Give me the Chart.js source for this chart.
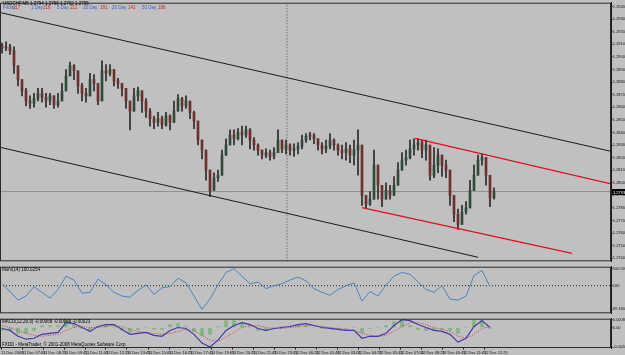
<!DOCTYPE html>
<html>
<head>
<meta charset="utf-8">
<script src="https://cdn.jsdelivr.net/npm/chart.js@4.4.1/dist/chart.umd.min.js"></script>
<style>
  html, body { margin: 0; padding: 0; background: #c0c0c0; }
  #wrap { position: relative; width: 625px; height: 355px; overflow: hidden; background: #c0c0c0;
          font-family: "Liberation Sans", Arial, sans-serif; }
  canvas { position: absolute; left: 0; }
  .t { position: absolute; font-size: 4.5px; line-height: 5px; white-space: nowrap; color: #000; }
  .b { color: #3a5fcd; }
  .r { color: #d02020; }
</style>
</head>
<body>
<div id="wrap">
  <canvas id="main" width="625" height="264" style="top:0"></canvas>
  <canvas id="mom" width="625" height="52" style="top:264px"></canvas>
  <canvas id="macd" width="625" height="39" style="top:316px"></canvas>

  <div class="t" style="left:3px;top:1px">USDCHF,M5 1.2794 1.2796 1.2792 1.2795</div>
  <div class="t b" style="left:3px;top:5px">Friday</div>
  <div class="t r" style="left:13px;top:5px">117</div>
  <div class="t b" style="left:31px;top:5px">1 Day</div>
  <div class="t r" style="left:43px;top:5px">216</div>
  <div class="t b" style="left:57px;top:5px">5 Day</div>
  <div class="t r" style="left:70px;top:5px">211</div>
  <div class="t b" style="left:83px;top:5px">10 Day</div>
  <div class="t r" style="left:100px;top:5px">191</div>
  <div class="t b" style="left:112px;top:5px">20 Day</div>
  <div class="t r" style="left:128px;top:5px">141</div>
  <div class="t b" style="left:142px;top:5px">50 Day</div>
  <div class="t r" style="left:158px;top:5px">186</div>

  <div class="t" style="left:2px;top:267px">Mom(14) 100.0254</div>
  <div class="t" style="left:2px;top:319px">MACD(12,26,9) -0.00068 -0.00048 -0.00023</div>
  <div class="t" style="left:2px;top:342px">FXDD - MetaTrader, &copy; 2001-2008 MetaQuotes Software Corp.</div>
</div>

<script>
// ------------------------------------------------------------
// Data (USDCHF M5), one candle per slot
// ------------------------------------------------------------
const firstOpen = 1.2909

const closes = [
  1.2907,1.2908,1.2905,1.2893,1.2882,1.2873,1.2865,1.2863,1.2867,1.2871,
  1.2868,1.2865,1.2869,1.2862,1.2865,1.2873,1.2885,1.2893,1.2889,1.2877,
  1.2871,1.2869,1.2882,1.2879,1.2865,1.2889,1.2887,1.2890,1.2881,1.2879,
  1.2875,1.2865,1.2857,1.2869,1.2873,1.2865,1.2857,1.2851,1.2848,1.2851,
  1.2846,1.2853,1.2848,1.2857,1.2867,1.2861,1.2865,1.2856,1.2849,1.2834,
  1.2826,1.2810,1.2794,1.2804,1.2806,1.2822,1.2830,1.2838,1.2835,1.2840,
  1.2838,1.2842,1.2834,1.2830,1.2826,1.2822,1.2824,1.2821,1.2824,1.2834,
  1.2827,1.2830,1.2826,1.2827,1.2829,1.2834,1.2837,1.2838,1.2835,1.2830,
  1.2827,1.2829,1.2834,1.2830,1.2826,1.2824,1.2827,1.2822,1.2826,1.2830,
  1.2790,1.2783,1.2787,1.2814,1.2798,1.2787,1.2794,1.2790,1.2798,1.2810,
  1.2818,1.2820,1.2827,1.2830,1.2832,1.2826,1.2830,1.2806,1.2814,1.2822,
  1.2814,1.2810,1.2790,1.2775,1.2767,1.2777,1.2780,1.2794,1.2806,1.2818,
  1.2820,1.2806,1.2788,1.2793
]

const highs = [
  1.2911,1.2912,1.2910,1.2908,1.2889,1.2882,1.2875,1.2869,1.2871,1.2875,
  1.2875,1.2871,1.2871,1.2868,1.2871,1.2879,1.2890,1.2896,1.2894,1.2884,
  1.2879,1.2875,1.2887,1.2886,1.2873,1.2897,1.2894,1.2894,1.2887,1.2883,
  1.2879,1.2873,1.2865,1.2875,1.2876,1.2871,1.2867,1.2859,1.2853,1.2856,
  1.2853,1.2856,1.2854,1.2865,1.2870,1.2868,1.2869,1.2864,1.2857,1.2842,
  1.2834,1.2822,1.2810,1.2808,1.2810,1.2826,1.2835,1.2842,1.2842,1.2843,
  1.2845,1.2845,1.2843,1.2836,1.2831,1.2826,1.2827,1.2826,1.2828,1.2842,
  1.2834,1.2834,1.2831,1.2831,1.2832,1.2838,1.2839,1.2840,1.2839,1.2835,
  1.2832,1.2834,1.2839,1.2835,1.2831,1.2830,1.2832,1.2830,1.2834,1.2842,
  1.2814,1.2790,1.2793,1.2826,1.2814,1.2798,1.2800,1.2798,1.2805,1.2816,
  1.2824,1.2826,1.2834,1.2835,1.2835,1.2834,1.2834,1.2830,1.2828,1.2827,
  1.2819,1.2818,1.2806,1.2790,1.2779,1.2782,1.2785,1.2802,1.2814,1.2822,
  1.2823,1.2819,1.2804,1.2796
]

const lows = [
  1.2903,1.2905,1.2902,1.2887,1.2877,1.2869,1.2861,1.2859,1.2860,1.2865,
  1.2864,1.2860,1.2862,1.2859,1.2860,1.2865,1.2878,1.2886,1.2882,1.2871,
  1.2865,1.2864,1.2873,1.2873,1.2862,1.2865,1.2881,1.2885,1.2877,1.2875,
  1.2869,1.2859,1.2842,1.2859,1.2865,1.2856,1.2852,1.2845,1.2843,1.2845,
  1.2843,1.2845,1.2842,1.2851,1.2861,1.2857,1.2859,1.2851,1.2843,1.2830,
  1.2819,1.2802,1.2789,1.2798,1.2801,1.2816,1.2824,1.2832,1.2830,1.2834,
  1.2830,1.2836,1.2827,1.2826,1.2822,1.2819,1.2820,1.2818,1.2819,1.2826,
  1.2824,1.2823,1.2822,1.2821,1.2823,1.2827,1.2832,1.2834,1.2831,1.2826,
  1.2823,1.2824,1.2827,1.2826,1.2822,1.2819,1.2818,1.2816,1.2814,1.2806,
  1.2782,1.2780,1.2782,1.2787,1.2787,1.2781,1.2788,1.2787,1.2790,1.2801,
  1.2810,1.2814,1.2819,1.2822,1.2826,1.2820,1.2818,1.2802,1.2804,1.2808,
  1.2805,1.2804,1.2782,1.2769,1.2763,1.2772,1.2775,1.2782,1.2798,1.2810,
  1.2814,1.2798,1.2781,1.2787
]

// price axis labels
const priceTicks = [
  '1.2940','1.2930','1.2920','1.2910','1.2900','1.2890','1.2880','1.2870','1.2860','1.2850',
  '1.2840','1.2830','1.2820','1.2810','1.2800','1.2790','1.2780','1.2770','1.2760','1.2750','1.2740'
]

// trend lines drawn on the chart: [x1, price1, x2, price2] in candle slots
const blackUpper = [-0.5, 1.29353, 152.25, 1.28250]
const blackLower = [-0.5, 1.28282, 119, 1.27408]
const redUpper   = [103.25, 1.28353, 152.25, 1.27991]
const redLower   = [90, 1.27802, 142.5, 1.27439]
const daySeparator = 71.25   // 12 Dec 00:00

// indicators, one value every second candle
const momentum = [
  100.07,99.80,99.50,99.64,99.97,99.77,99.57,99.87,100.33,100.20,
  99.74,99.77,100.23,100.03,99.77,99.64,99.60,99.84,100.03,99.70,
  99.93,99.97,100.26,100.10,99.64,99.18,99.54,100.03,100.46,100.59,
  100.33,100.07,100.13,99.90,100.00,100.07,100.20,100.30,100.17,99.90,
  99.77,99.67,99.87,100.00,100.10,99.47,99.80,99.64,100.03,100.33,
  100.46,100.40,100.13,99.87,99.77,100.00,99.54,99.50,99.64,100.36,
  100.53,99.97
]

const macdMain = [
  -0.0001,-0.0003,-0.0009,-0.0012,-0.0011,-0.0007,-0.0006,-0.0005,0.0005,0.0004,
  0,-0.0004,0.0001,0.0003,0.0003,-0.0002,-0.0007,-0.0006,-0.0005,-0.0008,
  -0.0009,-0.0003,0,-0.0001,-0.0007,-0.0016,-0.0020,-0.0013,-0.0003,0.0002,
  0.0005,0.0003,-0.0001,-0.0003,-0.0001,0,0.0001,0.0003,0.0004,0.0002,
  0,-0.0001,-0.0002,-0.0003,-0.0003,-0.0011,-0.0009,-0.0009,-0.0006,0.0002,
  0.0008,0.0007,0.0003,0,-0.0003,-0.0004,-0.0007,-0.0015,-0.0011,0.0001,
  0.0007,0
]

const macdSignal = [
  0.0002,0,-0.0003,-0.0006,-0.0008,-0.0009,-0.0008,-0.0007,-0.0003,0,
  0.0001,0,0,0.0001,0.0002,0.0001,-0.0002,-0.0004,-0.0005,-0.0006,
  -0.0007,-0.0006,-0.0004,-0.0002,-0.0003,-0.0008,-0.0013,-0.0014,-0.0010,-0.0005,
  0,0.0002,0.0002,0,-0.0001,-0.0001,0,0.0001,0.0002,0.0002,
  0.0001,0,-0.0001,-0.0002,-0.0003,-0.0006,-0.0008,-0.0009,-0.0008,-0.0004,
  0.0001,0.0005,0.0005,0.0003,0,-0.0002,-0.0004,-0.0009,-0.0011,-0.0007,
  -0.0001,0.0001
]

const macdHist = [
  -0.0003,-0.0003,-0.0006,-0.0006,-0.0003,0.0002,0.0002,0.0002,0.0008,0.0004,
  -0.0001,-0.0004,0.0001,0.0002,0.0001,-0.0003,-0.0005,-0.0002,0,-0.0002,
  -0.0002,0.0003,0.0004,0.0001,-0.0004,-0.0008,-0.0007,0.0001,0.0007,0.0007,
  0.0005,0.0001,-0.0003,-0.0003,0,0.0001,0.0001,0.0002,0.0002,0,
  -0.0001,-0.0001,-0.0001,-0.0001,0,-0.0005,-0.0001,0,0.0002,0.0006,
  0.0007,0.0002,-0.0002,-0.0003,-0.0003,-0.0002,-0.0003,-0.0006,0,0.0008,
  0.0008,-0.0001
]

const timeLabels = [
  '11 Dec 2008','11 Dec 07:05','11 Dec 08:25','11 Dec 09:45','11 Dec 11:05','11 Dec 12:25',
  '11 Dec 13:45','11 Dec 15:05','11 Dec 16:25','11 Dec 17:45','11 Dec 19:05','11 Dec 20:25',
  '11 Dec 21:45','11 Dec 23:05','12 Dec 00:25','12 Dec 01:45','12 Dec 03:05','12 Dec 04:25',
  '12 Dec 05:45','12 Dec 07:05','12 Dec 08:25','12 Dec 09:45','12 Dec 11:05','12 Dec 12:25'
]

// ------------------------------------------------------------
// Shared bits
// ------------------------------------------------------------
const X_MIN = -0.5
const X_MAX = 152.25
const AXIS_W = 14
const TICK_FONT = { family: "'Liberation Sans', Arial, sans-serif", size: 4 }

const paneFrame = {
  id: 'paneFrame',
  afterDraw(chart) {
    const { ctx, chartArea: a } = chart
    ctx.save()
    ctx.strokeStyle = '#2b2b2b'
    ctx.lineWidth = 1
    ctx.strokeRect(a.left + 0.5, a.top + 0.5, a.right - a.left - 1, a.bottom - a.top - 1)
    ctx.restore()
  }
}

function rightAxis(extra) {
  return Object.assign({
    position: 'right',
    afterFit: s => { s.width = AXIS_W },
    border: { display: true, color: '#1a1a1a', width: 1 },
    grid: { drawOnChartArea: false, tickLength: 1.5, color: '#1a1a1a' },
    ticks: { color: '#111', font: TICK_FONT, padding: 0.3 }
  }, extra)
}

function hiddenX() {
  return { type: 'linear', min: X_MIN, max: X_MAX, offset: false, display: false }
}

function segment(line, color, width) {
  return {
    type: 'line',
    data: [{ x: line[0], y: line[1] }, { x: line[2], y: line[3] }],
    borderColor: color,
    borderWidth: width,
    pointRadius: 0,
    order: 0
  }
}

const baseOpts = {
  responsive: false,
  animation: false,
  events: [],
  plugins: { legend: { display: false }, tooltip: { enabled: false } }
}

// ------------------------------------------------------------
// Main pane: candles + lines
// ------------------------------------------------------------
const opens = closes.map((c, i) => i === 0 ? firstOpen : closes[i - 1])
const lastPrice = closes[closes.length - 1]

const wickData = closes.map((c, i) => ({
  x: i,
  y: [Math.min(lows[i], opens[i], c), Math.max(highs[i], opens[i], c)]
}))
const bodyData = closes.map((c, i) => ({ x: i, y: [opens[i], c] }))
const bodyColors = closes.map((c, i) => c >= opens[i] ? '#2f4a38' : '#6e2f2f')

const pMin = 1.27376
const pMax = 1.29431

const priceTag = {
  id: 'priceTag',
  afterDraw(chart) {
    const { ctx } = chart
    const y = Math.round(chart.scales.y.getPixelForValue(lastPrice))
    ctx.save()
    ctx.fillStyle = '#000'
    ctx.fillRect(612, y - 3, 13, 6)
    ctx.fillStyle = '#fff'
    ctx.font = "4px 'Liberation Sans', Arial, sans-serif"
    ctx.textBaseline = 'middle'
    ctx.fillText(lastPrice.toFixed(4), 613, y + 0.5)
    ctx.restore()
  }
}

new Chart(document.getElementById('main'), {
  type: 'bar',
  data: {
    datasets: [
      segment(blackUpper, '#1a1a1a', 1),
      segment(blackLower, '#1a1a1a', 1),
      segment(redUpper, '#e0101a', 1.3),
      segment(redLower, '#e0101a', 1.3),
      {
        type: 'line',
        data: [{ x: X_MIN, y: lastPrice }, { x: X_MAX, y: lastPrice }],
        borderColor: '#8e8e8e', borderWidth: 1, pointRadius: 0, order: 3
      },
      {
        type: 'line',
        data: [{ x: daySeparator, y: pMin }, { x: daySeparator, y: pMax }],
        borderColor: '#4a4a4a', borderWidth: 1, borderDash: [1, 2], pointRadius: 0, order: 3
      },
      {
        data: bodyData,
        backgroundColor: bodyColors,
        barThickness: 2,
        minBarLength: 1,
        grouped: false,
        order: 1
      },
      {
        data: wickData,
        backgroundColor: '#2a2a2a',
        barThickness: 1,
        grouped: false,
        order: 2
      }
    ]
  },
  options: {
    ...baseOpts,
    layout: { padding: { top: 1, bottom: 2, left: 0, right: 0 } },
    scales: {
      x: hiddenX(),
      y: rightAxis({
        min: pMin,
        max: pMax,
        afterBuildTicks: s => { s.ticks = priceTicks.map(v => ({ value: parseFloat(v) })) },
        ticks: {
          color: '#111', font: TICK_FONT, padding: 0.3,
          callback: (v, i) => priceTicks[i]
        }
      })
    }
  },
  plugins: [paneFrame, priceTag]
})

// ------------------------------------------------------------
// Momentum pane
// ------------------------------------------------------------
const momMax = Math.max(...momentum)
const momMin = Math.min(...momentum)

new Chart(document.getElementById('mom'), {
  type: 'line',
  data: {
    datasets: [
      {
        data: momentum.map((v, k) => ({ x: 2 * k, y: v })),
        borderColor: '#4a84c4', borderWidth: 1, pointRadius: 0, tension: 0
      },
      {
        data: [{ x: X_MIN, y: 100 }, { x: X_MAX, y: 100 }],
        borderColor: '#222', borderWidth: 1, borderDash: [1, 2], pointRadius: 0
      }
    ]
  },
  options: {
    ...baseOpts,
    layout: { padding: { top: 2, bottom: 1 } },
    scales: {
      x: hiddenX(),
      y: rightAxis({
        min: 99.043,
        max: 100.66,
        afterBuildTicks: s => { s.ticks = [momMax, 100, momMin].map(v => ({ value: v })) },
        ticks: {
          color: '#111', font: TICK_FONT, padding: 0.3,
          callback: v => v === 100 ? '100' : v.toFixed(3)
        }
      })
    }
  },
  plugins: [paneFrame]
})

// ------------------------------------------------------------
// MACD pane + time axis
// ------------------------------------------------------------
const macdMax = Math.max(...macdMain)
const macdMin = Math.min(...macdMain)

new Chart(document.getElementById('macd'), {
  type: 'bar',
  data: {
    datasets: [
      {
        type: 'line',
        data: macdMain.map((v, k) => ({ x: 2 * k, y: v })),
        borderColor: '#4a36a8', borderWidth: 1.2, pointRadius: 0, order: 0
      },
      {
        type: 'line',
        data: macdSignal.map((v, k) => ({ x: 2 * k, y: v })),
        borderColor: '#d23a3a', borderWidth: 1, borderDash: [1, 1.5], pointRadius: 0, order: 1
      },
      {
        data: macdHist.map((v, k) => ({ x: 2 * k, y: v })),
        backgroundColor: '#82b486',
        barThickness: 3,
        grouped: false,
        order: 2
      }
    ]
  },
  options: {
    ...baseOpts,
    layout: { padding: { top: 2 } },
    scales: {
      x: {
        type: 'linear', min: X_MIN, max: X_MAX, offset: false,
        afterFit: s => { s.height = 7 },
        afterBuildTicks: s => { s.ticks = timeLabels.map((t, k) => ({ value: -0.25 + 5.25 * k })) },
        border: { display: false },
        grid: { drawOnChartArea: false, tickLength: 1.5, color: '#1a1a1a', offset: false },
        ticks: {
          color: '#111', font: TICK_FONT, padding: 0.5, align: 'start',
          maxRotation: 0, autoSkip: false,
          callback: (v, i) => timeLabels[i]
        }
      },
      y: rightAxis({
        min: -0.0021,
        max: 0.0009,
        afterBuildTicks: s => { s.ticks = [macdMax, 0, macdMin].map(v => ({ value: v })) },
        ticks: {
          color: '#111', font: TICK_FONT, padding: 0.3,
          callback: v => v === 0 ? '0.00' : v.toFixed(5)
        }
      })
    }
  },
  plugins: [paneFrame]
})
</script>
</body>
</html>
